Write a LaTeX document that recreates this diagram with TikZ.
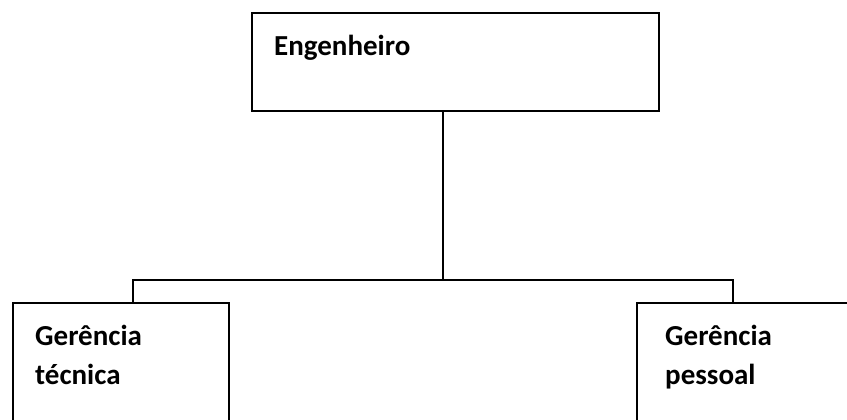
\documentclass[tikz,border=0pt]{standalone}
\usepackage{fontspec}
\setmainfont{Carlito}
\begin{document}
\begin{tikzpicture}[x=1pt,y=-1pt,
  box/.style={draw=black, line width=2.8pt, rectangle, inner sep=0pt},
  lbl/.style={anchor=base west, inner sep=0pt, font=\fontsize{29}{39}\selectfont\bfseries, align=left},
  conn/.style={draw=black, line width=2.2pt}]
\useasboundingbox (0,0) rectangle (847,420);
\clip (0,0) rectangle (847,420);
\node[box, minimum width=407pt, minimum height=98pt] (top) at (455.5,62) {};
\node[box, minimum width=216pt, minimum height=140pt] (left) at (121,373) {};
\node[box, minimum width=240pt, minimum height=140pt] (right) at (757,373) {};
\node[lbl] (t1) at (274,56) {Engenheiro};
\node[lbl] (t2) at (35,345) {Gerência};
\node[lbl] (t3) at (35,384) {técnica};
\node[lbl] (t4) at (665,345) {Gerência};
\node[lbl] (t5) at (665,384) {pessoal};
\coordinate (j) at (443,280);
\coordinate (cl) at (133,280);
\coordinate (cr) at (733,280);
\draw[conn] (j |- top.south) -- (j);
\draw[conn] (cl |- left.north) -- (cl) -- (cr) -- (cr |- right.north);
\end{tikzpicture}
\end{document}
